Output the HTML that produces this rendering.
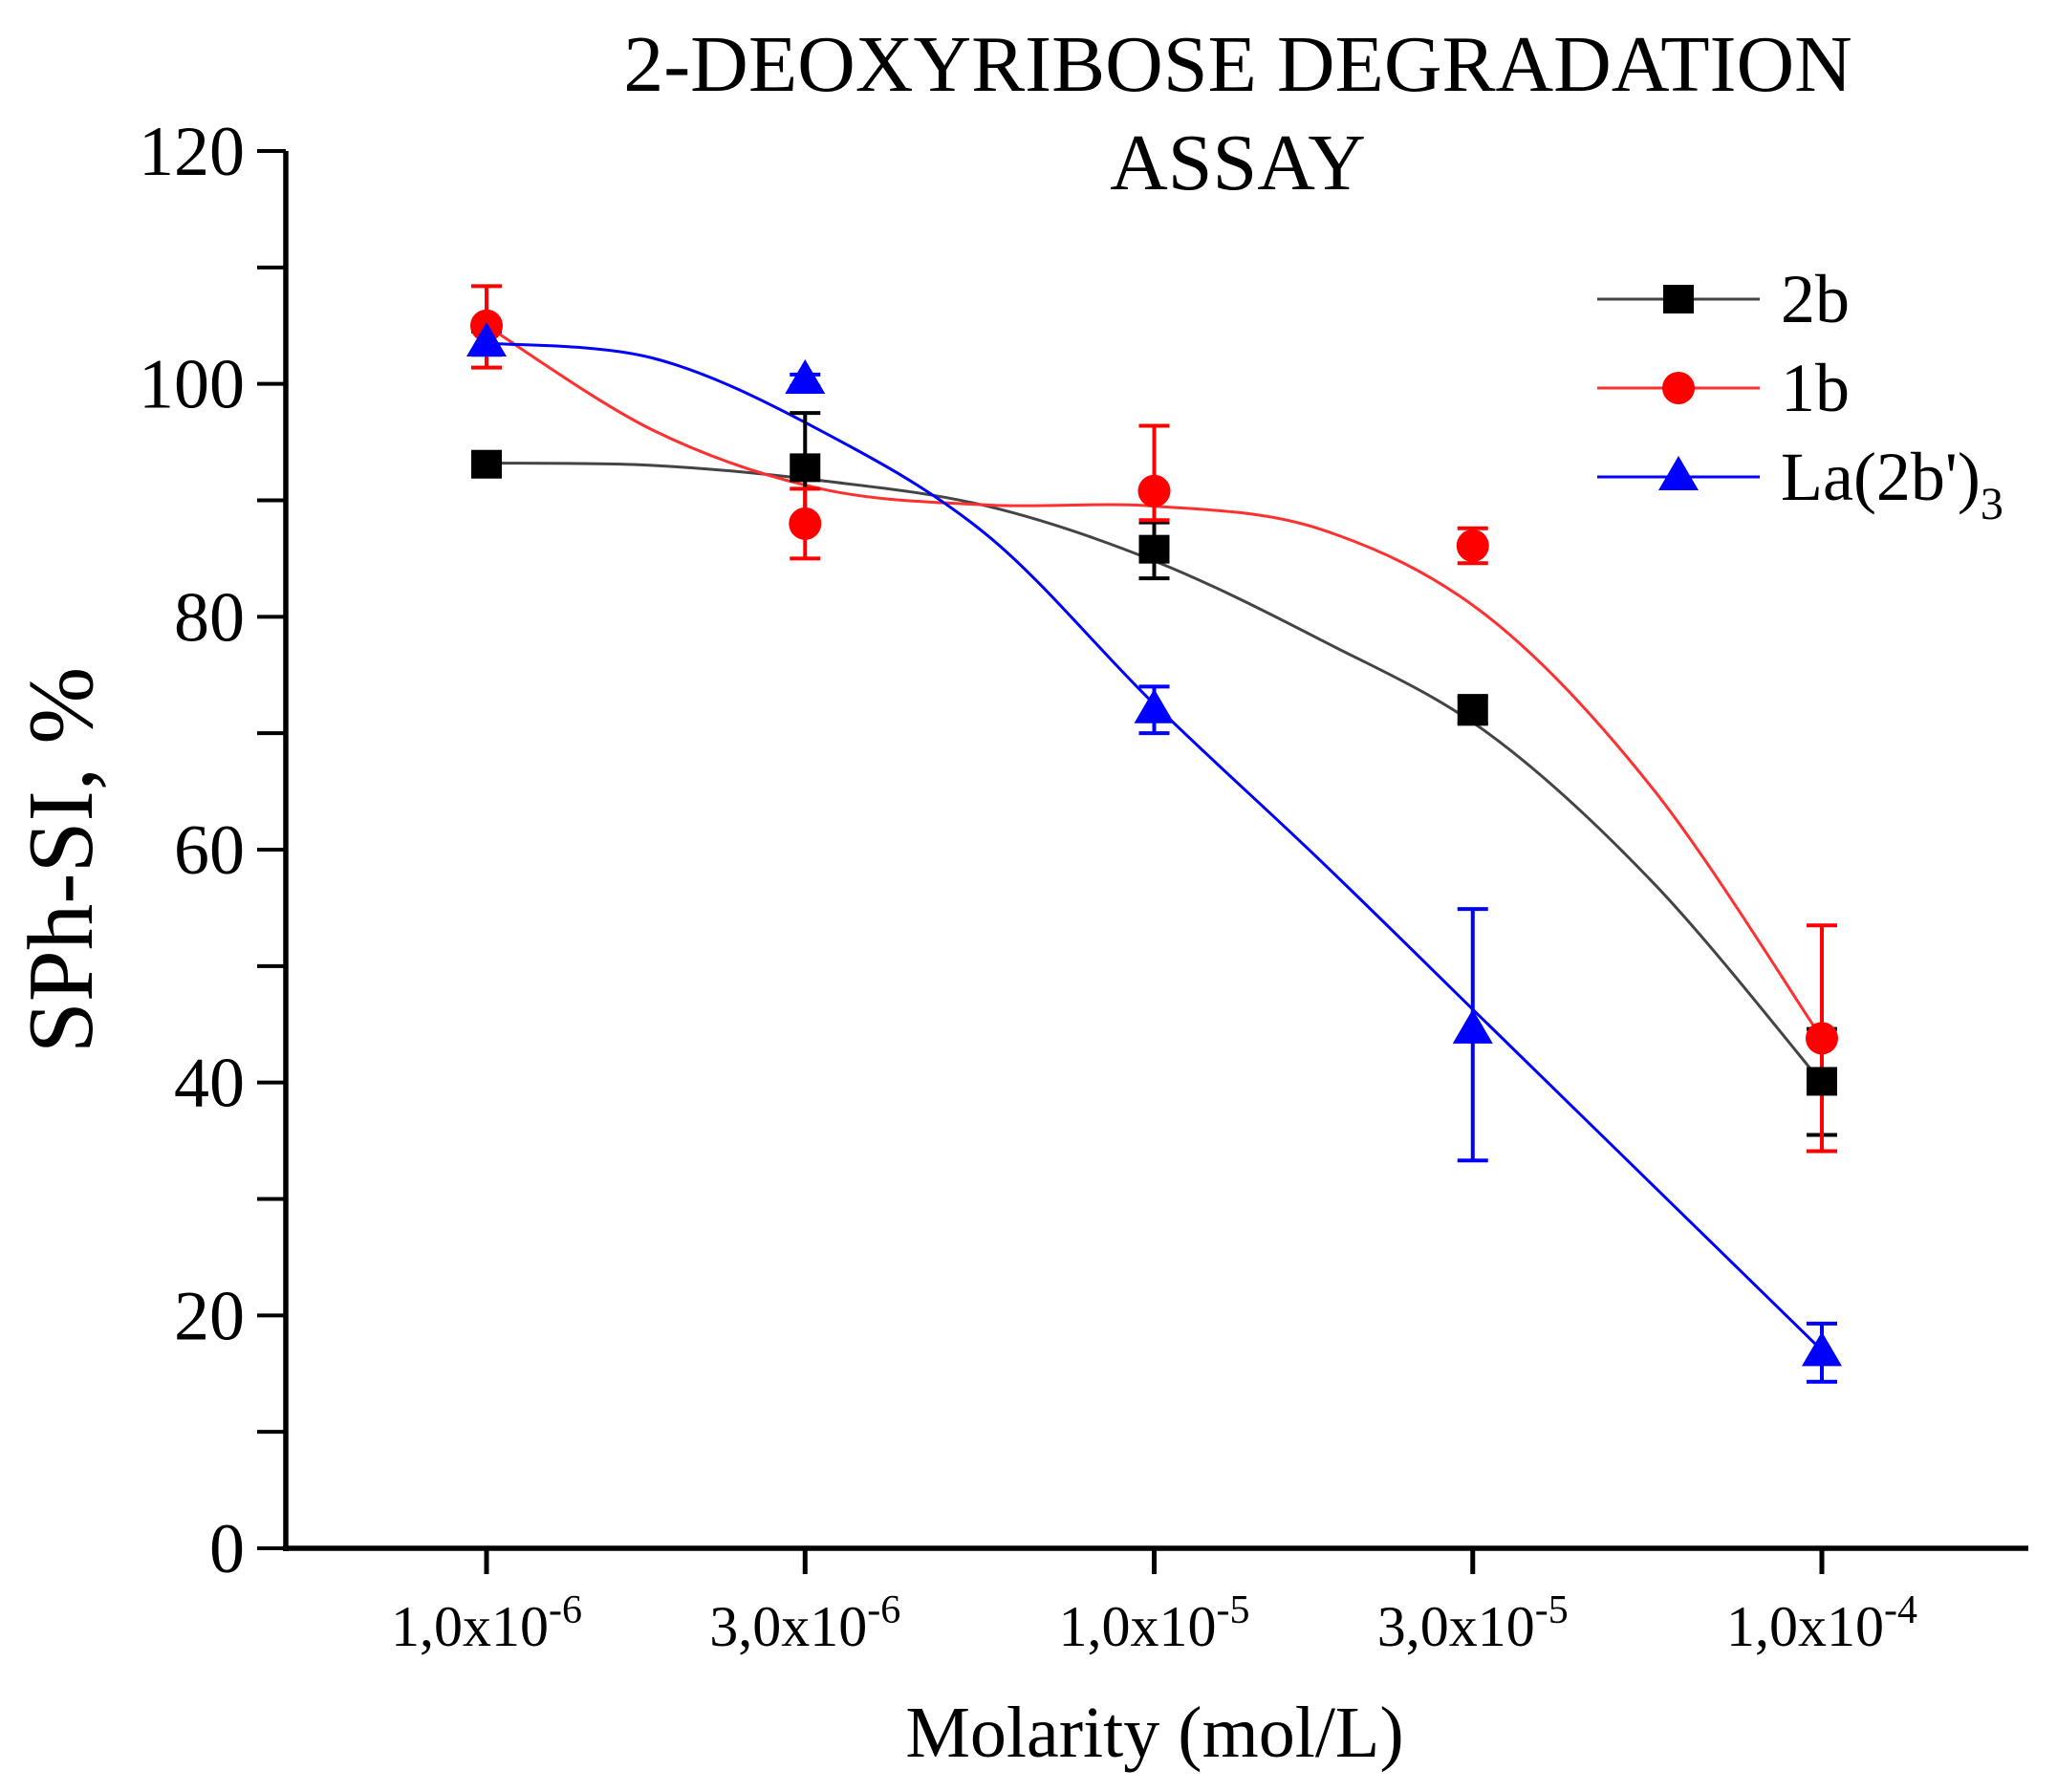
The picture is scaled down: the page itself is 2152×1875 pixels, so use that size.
<!DOCTYPE html>
<html><head><meta charset="utf-8"><style>
body{margin:0;background:#fff}
svg{display:block;font-family:"Liberation Serif",serif}
</style></head><body>
<svg id="chart" width="2152" height="1875" viewBox="0 0 2152 1875" xmlns="http://www.w3.org/2000/svg">
<g id="plot"></g>
</svg>
<script>
const categories = [1e-6, 3e-6, 1e-5, 3e-5, 1e-4];
const xTickLabels = [["1,0x10","-6"],["3,0x10","-6"],["1,0x10","-5"],["3,0x10","-5"],["1,0x10","-4"]];
const yTicks = [0,20,40,60,80,100,120];
const s2b = [93.1, 92.8, 85.8, 72.0, 40.1];
const e2bUp = [0.5, 4.7, 2.3, 1.2, 4.5];
const e2bDn = [0.5, 4.8, 2.5, 1.2, 4.6];
const s1b = [105.0, 88.0, 90.8, 86.1, 43.8];
const e1bUp = [3.4, 3.0, 5.6, 1.5, 9.7];
const e1bDn = [3.6, 3.0, 2.5, 1.5, 9.7];
const sLa = [103.5, 100.3, 72.0, 44.5, 16.8];
const eLaUp = [1.0, 0.5, 2.0, 10.4, 2.5];
const eLaDn = [1.0, 0.5, 2.0, 11.2, 2.5];
const fitLogX = [-6, -5.75, -5.5, -5.25, -5, -4.75, -4.5, -4.25, -4];
const fit2b = [93.2, 93.0, 91.7, 89.5, 84.8, 78, 70, 57, 40];
const fit1b = [105, 96, 91, 89.6, 89.5, 87.5, 80, 65, 43.8];
const fitLa = [103.5, 102.2, 96, 87, 72.5, 59, 45, 31, 17];

const NS="http://www.w3.org/2000/svg";
const g=document.getElementById('plot');
const X0=299, X1=2122, Y0=1620, YT=158;
const lx=v=>509+(Math.log10(v)+6)*698.5;
const lxl=l=>509+(l+6)*698.5;
const y=v=>Y0-(v/120)*(Y0-YT);
function el(t,a,p){const e=document.createElementNS(NS,t);for(const k in a)e.setAttribute(k,a[k]);(p||g).appendChild(e);return e;}
let ax=el('line',{x1:X0,y1:YT,x2:X0,y2:Y0+3,stroke:'#000','stroke-width':5.5});


ax=el('line',{x1:X0-3,y1:Y0,x2:X1,y2:Y0,stroke:'#000','stroke-width':5.5});


for(let v=0;v<=120;v+=10){
  const t=el('line',{x1:X0-30,y1:y(v),x2:X0,y2:y(v),stroke:'#000','stroke-width':4});
  
  
}
yTicks.forEach(v=>{
  const t=el('text',{x:256,y:y(v)+25,'text-anchor':'end','font-size':74});
  t.textContent=v;
  
  
});
categories.forEach((c,i)=>{
  const t=el('line',{x1:lx(c),y1:Y0,x2:lx(c),y2:Y0+27,stroke:'#000','stroke-width':5});
  
  
  const tx=el('text',{x:lx(c),y:1722,'text-anchor':'middle','font-size':60});
  
  
  const a=document.createElementNS(NS,'tspan');a.textContent=xTickLabels[i][0];tx.appendChild(a);
  const b=document.createElementNS(NS,'tspan');b.setAttribute('dy',-24);b.setAttribute('font-size',42);b.textContent=xTickLabels[i][1];tx.appendChild(b);
});
function curve(ys,color,name){
  const pts=fitLogX.map((l,i)=>[lxl(l),y(ys[i])]);
  let d='M'+pts[0][0]+','+pts[0][1];
  for(let i=0;i<pts.length-1;i++){
    const p0=pts[Math.max(0,i-1)],p1=pts[i],p2=pts[i+1],p3=pts[Math.min(pts.length-1,i+2)];
    d+=` C${p1[0]+(p2[0]-p0[0])/6},${p1[1]+(p2[1]-p0[1])/6} ${p2[0]-(p3[0]-p1[0])/6},${p2[1]-(p3[1]-p1[1])/6} ${p2[0]},${p2[1]}`;
  }
  const p=el('path',{d,fill:'none',stroke:color,'stroke-width':3});
  
  
}
function errs(vals,up,dn,color,name){
  vals.forEach((v,i)=>{
    const xx=lx(categories[i]);
    const e=el('path',{d:`M${xx},${y(v+up[i])}V${y(v-dn[i])}M${xx-16},${y(v+up[i])}h32M${xx-16},${y(v-dn[i])}h32`,stroke:color,'stroke-width':4,fill:'none'});
    
    
  });
}
function marker(type,xx,yy,color,name){
  let m;
  if(type==='sq') m=el('rect',{x:xx-16,y:yy-15,width:32,height:30,fill:color});
  else if(type==='ci') m=el('circle',{cx:xx,cy:yy,r:17,fill:color});
  else m=el('polygon',{points:`${xx},${yy-22} ${xx-21},${yy+14} ${xx+21},${yy+14}`,fill:color});
  
  
}
curve(fit2b,'#444','fit-line-2b');
curve(fit1b,'#ff3030','fit-line-1b');
curve(fitLa,'#0000ff','fit-line-la');
errs(s2b,e2bUp,e2bDn,'#000','error-bar-2b');
errs(s1b,e1bUp,e1bDn,'#ff0000','error-bar-1b');
errs(sLa,eLaUp,eLaDn,'#0000ff','error-bar-la');
s2b.forEach((v,i)=>marker('sq',lx(categories[i]),y(v),'#000','point-2b'));
s1b.forEach((v,i)=>marker('ci',lx(categories[i]),y(v),'#ff0000','point-1b'));
sLa.forEach((v,i)=>marker('tr',lx(categories[i]),y(v),'#0000ff','point-la'));
const leg=[['sq','#444','#000','2b',313],['ci','#ff3030','#ff0000','1b',406],['tr','#0000ff','#0000ff','La(2b\')',499]];
leg.forEach(l=>{
  const ln=el('line',{x1:1671,y1:l[4],x2:1841,y2:l[4],stroke:l[1],'stroke-width':3});
  
  
  marker(l[0],1756,l[4],l[2],'legend-marker');
  const t=el('text',{x:1863,y:l[4]+24,'font-size':72});
  t.textContent=l[3];
  
  
  if(l[0]==='tr'){const s=document.createElementNS(NS,'tspan');s.setAttribute('dy',20);s.setAttribute('font-size',48);s.textContent='3';t.appendChild(s);}
});
let t=el('text',{x:1295,y:95,'text-anchor':'middle','font-size':84});
t.textContent='2-DEOXYRIBOSE DEGRADATION';


t=el('text',{x:1295,y:198,'text-anchor':'middle','font-size':84});
t.textContent='ASSAY';


t=el('text',{x:1208,y:1838,'text-anchor':'middle','font-size':76});
t.textContent='Molarity (mol/L)';


t=el('text',{x:0,y:0,'text-anchor':'middle','font-size':97,transform:'translate(96,900) rotate(-90)'});
t.textContent='SPh-SI, %';


</script>
</body></html>
